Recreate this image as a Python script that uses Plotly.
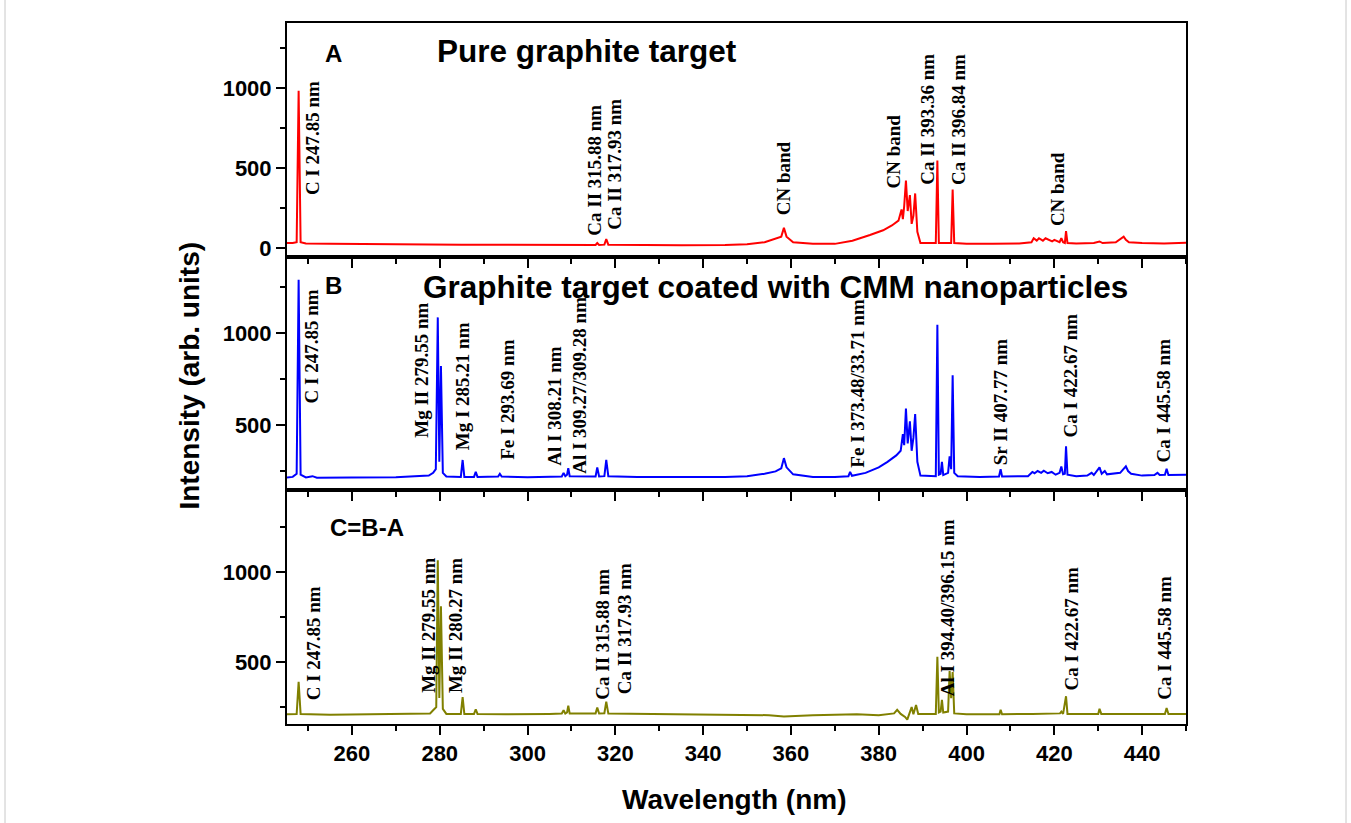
import plotly.graph_objects as go
from plotly.subplots import make_subplots

# ---------------- data (wavelength nm, intensity arb. units) ----------------
spec_A = [
    (245.2, 30), (246.5, 30), (247.4, 36), (247.85, 982), (248.3, 36), (249.5, 28),
    (255, 25), (265, 22), (275, 21), (285, 20), (295, 19), (305, 18),
    (315.5, 18), (315.88, 30), (316.3, 18), (317.5, 20), (317.93, 55), (318.4, 20),
    (325, 18), (335, 17), (345, 18), (350, 22), (354, 35), (356.5, 55), (357.8, 70),
    (358.4, 125), (359.0, 70), (360.5, 35), (365, 25), (370, 25), (374, 45), (378, 80),
    (381, 110), (383, 140), (384.5, 170), (385.2, 240), (385.5, 180), (385.8, 260),
    (386.2, 420), (386.6, 230), (387.1, 330), (387.5, 150), (387.9, 200), (388.3, 340),
    (388.8, 100), (389.5, 30), (393.0, 30), (393.36, 545), (393.7, 30),
    (396.5, 30), (396.84, 365), (397.2, 30), (400, 25), (406, 25), (412, 28),
    (414.8, 35), (415.3, 60), (416, 45), (416.5, 60), (417.4, 45), (418, 60),
    (419.5, 40), (420, 50), (421.2, 35), (421.6, 60), (422.0, 35), (422.4, 30),
    (422.67, 105), (423.0, 30), (425, 28), (429, 30), (430.3, 40), (431, 30),
    (434, 35), (435.8, 70), (436.3, 50), (437, 35), (440, 30), (445, 28), (450, 32),
]

spec_B = [
    (245.2, 215), (246.5, 218), (247.4, 235), (247.85, 1290), (248.3, 230), (249.5, 215),
    (251, 222), (252, 214), (260, 215), (270, 216), (277.5, 225), (278.5, 240),
    (279.1, 260), (279.55, 1085), (279.9, 300), (280.27, 820), (280.7, 240), (281.5, 220),
    (284.8, 218), (285.21, 310), (285.6, 218), (287.8, 218), (288.2, 245), (288.6, 218),
    (293.3, 220), (293.69, 235), (294.1, 220), (300, 216), (307.8, 220), (308.21, 240),
    (308.6, 222), (309.0, 230), (309.28, 265), (309.6, 222), (315.5, 220), (315.88, 270),
    (316.3, 220), (317.5, 222), (317.93, 310), (318.4, 222), (325, 218), (335, 216),
    (345, 218), (350, 222), (354, 235), (356.5, 248), (357.8, 265), (358.4, 320),
    (359.0, 270), (360.5, 232), (365, 218), (370, 218), (373.1, 222), (373.48, 245),
    (373.9, 224), (377, 240), (380, 270), (382, 300), (384, 335), (385.0, 360),
    (385.5, 450), (385.8, 390), (386.2, 590), (386.6, 400), (387.1, 520), (387.5, 360),
    (387.9, 430), (388.3, 560), (388.8, 300), (389.5, 225), (393.0, 222), (393.36, 1045),
    (393.7, 230), (394.1, 235), (394.4, 300), (394.7, 228), (395.8, 240), (396.15, 330),
    (396.5, 260), (396.84, 770), (397.2, 240), (398, 222), (403, 218), (407.4, 220),
    (407.77, 260), (408.1, 220), (414, 222), (415, 245), (415.5, 238), (416.2, 250),
    (417, 240), (417.6, 252), (418.5, 238), (419.4, 245), (420.3, 230), (421.2, 240),
    (421.6, 275), (422.0, 232), (422.4, 235), (422.67, 385), (423.0, 230), (425, 222),
    (427.5, 225), (428.5, 240), (429, 228), (430.3, 270), (430.8, 235), (431.5, 250),
    (432, 232), (435, 240), (435.8, 265), (436.3, 275), (436.8, 250), (437.5, 235),
    (440, 225), (442.8, 228), (443.5, 240), (444, 228), (445.2, 230), (445.58, 262),
    (446, 228), (450, 230),
]

spec_C = [
    (245.2, 210), (247.4, 212), (247.85, 390), (248.3, 212), (255, 208), (265, 210),
    (275, 212), (277.8, 215), (278.6, 235), (279.2, 250), (279.55, 1065), (279.9, 300),
    (280.27, 810), (280.7, 240), (281.5, 212), (284.8, 212), (285.21, 305), (285.6, 212),
    (287.8, 212), (288.2, 238), (288.6, 212), (295, 210), (305, 212), (307.8, 214),
    (308.21, 232), (308.6, 214), (309.0, 220), (309.28, 258), (309.6, 214), (315.5, 215),
    (315.88, 248), (316.3, 214), (317.5, 216), (317.93, 280), (318.4, 214), (325, 212),
    (335, 210), (345, 208), (355, 205), (358.4, 198), (365, 205), (375, 210), (380, 205),
    (383.5, 215), (384.2, 235), (385, 212), (386, 195), (386.5, 180), (387, 215),
    (387.5, 250), (387.9, 210), (388.5, 262), (389, 212), (393.0, 212), (393.36, 530),
    (393.7, 220), (394.1, 225), (394.4, 290), (394.7, 220), (395.8, 225), (396.15, 450),
    (396.5, 300), (396.84, 445), (397.2, 215), (400, 210), (407.5, 210), (407.77, 235),
    (408.1, 210), (415, 212), (421.3, 215), (421.6, 225), (422, 212), (422.67, 310),
    (423.0, 212), (430, 212), (430.3, 240), (430.7, 212), (440, 212), (445.2, 212),
    (445.58, 245), (446, 212), (450, 212),
]

# peak labels: (text, label x position nm, label bottom intensity)
labels_A = [
    ("C I 247.85 nm", 251.0, 320), ("Ca II 315.88 nm", 315.2, 62),
    ("Ca II 317.93 nm", 319.8, 100), ("CN band", 358.3, 194),
    ("CN band", 383.4, 356), ("Ca II 393.36 nm", 391.1, 381),
    ("Ca II 396.84 nm", 398.2, 381), ("CN band", 420.9, 125),
]
labels_B = [
    ("C I 247.85 nm", 251.0, 609), ("Mg II 279.55 nm", 275.8, 419),
    ("Mg I 285.21 nm", 285.1, 353), ("Fe I 293.69 nm", 295.4, 299),
    ("Al I 308.21 nm", 306.1, 267), ("Al I 309.27/309.28 nm", 311.8, 223),
    ("Fe I 373.48/33.71 nm", 375.1, 256), ("Sr II 407.77 nm", 407.8, 272),
    ("Ca I 422.67 nm", 423.7, 419), ("Ca I 445.58 nm", 444.9, 283),
]
labels_C = [
    ("C I 247.85 nm", 251.2, 278), ("Mg II 279.55 nm", 277.4, 317),
    ("Mg II 280.27 nm", 283.6, 317), ("Ca II 315.88 nm", 317.0, 278),
    ("Ca II 317.93 nm", 322.1, 311), ("Al I 394.40/396.15 nm", 395.7, 300),
    ("Ca I 422.67 nm", 423.7, 328), ("Ca I 445.58 nm", 444.9, 278),
]

panel_letters = ["A", "B", "C=B-A"]
panel_titles = ["Pure graphite target", "Graphite target coated with CMM nanoparticles", ""]
colors = ["#ff0000", "#0000ff", "#808000"]
y_ranges = [[-55, 1405], [145, 1415], [156, 1454]]
x_range = [245.2, 450]

# ---------------- figure ----------------
fig = make_subplots(rows=3, cols=1, shared_xaxes=True, vertical_spacing=0)

specs = [spec_A, spec_B, spec_C]
for i, spec in enumerate(specs):
    xs = [p[0] for p in spec]
    ys = [p[1] for p in spec]
    fig.add_trace(go.Scatter(x=xs, y=ys, mode="lines",
                             line=dict(color=colors[i], width=2),
                             showlegend=False, hoverinfo="skip"),
                  row=i + 1, col=1)

tickfont = dict(family="Liberation Sans", size=22, color="black", weight="bold")
for i in range(3):
    fig.update_xaxes(row=i + 1, col=1, range=x_range, dtick=20, tick0=260,
                     ticks="outside", ticklen=9, tickwidth=2, tickcolor="black",
                     showline=True, linewidth=2, linecolor="black", mirror=True,
                     showgrid=False, zeroline=False,
                     showticklabels=(i == 2), tickfont=tickfont,
                     minor=dict(ticks="outside", ticklen=5, tickwidth=2,
                                tickcolor="black", dtick=10, tick0=250))
    fig.update_yaxes(row=i + 1, col=1, range=y_ranges[i], dtick=500, tick0=0,
                     ticks="outside", ticklen=9, tickwidth=2, tickcolor="black",
                     showline=True, linewidth=2, linecolor="black", mirror=True,
                     showgrid=False, zeroline=False, tickfont=tickfont,
                     minor=dict(ticks="outside", ticklen=5, tickwidth=2,
                                tickcolor="black", dtick=250, tick0=0))

serif = dict(family="Liberation Serif", size=19, color="black")
all_labels = [labels_A, labels_B, labels_C]
for i, labs in enumerate(all_labels):
    xr = "x" if i == 0 else "x%d" % (i + 1)
    yr = "y" if i == 0 else "y%d" % (i + 1)
    for text, lx, ly in labs:
        fig.add_annotation(x=lx, y=ly, xref=xr, yref=yr, text="<b>%s</b>" % text,
                           textangle=-90, xanchor="center", yanchor="bottom",
                           showarrow=False, font=serif)

# panel letters and titles (positions in paper coords)
letter_pos = [(0.052, 0.957), (0.052, 0.625), (0.089, 0.281)]
title_pos = [(0.334, 0.96), (0.543, 0.624)]
sans_bold = dict(family="Liberation Sans", color="black", weight="bold")
for i, txt in enumerate(panel_letters):
    fig.add_annotation(x=letter_pos[i][0], y=letter_pos[i][1], xref="paper", yref="paper",
                       text=txt, showarrow=False, xanchor="center", yanchor="middle",
                       font=dict(size=24, **sans_bold))
for i in range(2):
    fig.add_annotation(x=title_pos[i][0], y=title_pos[i][1], xref="paper", yref="paper",
                       text=panel_titles[i], showarrow=False, xanchor="center",
                       yanchor="middle", font=dict(size=31.5, **sans_bold))

# axis titles
fig.add_annotation(x=-0.108, y=0.497, xref="paper", yref="paper",
                   text="Intensity (arb. units)", textangle=-90, showarrow=False,
                   xanchor="center", yanchor="middle", font=dict(size=28, **sans_bold))
fig.add_annotation(x=0.498, y=-0.108, xref="paper", yref="paper",
                   text="Wavelength (nm)", showarrow=False,
                   xanchor="center", yanchor="middle", font=dict(size=28, **sans_bold))

# thin outer frame lines
for xpix in (5, 1346):
    xp = (xpix - 287) / 899
    fig.add_shape(type="line", xref="paper", yref="paper", x0=xp, x1=xp,
                  y0=-0.2, y1=1.04, line=dict(color="#c8c8c8", width=1))

fig.update_layout(width=1351, height=823, margin=dict(l=287, r=165, t=23, b=99),
                  plot_bgcolor="white", paper_bgcolor="white")

fig.write_html("out.html", config={"displayModeBar": False})
